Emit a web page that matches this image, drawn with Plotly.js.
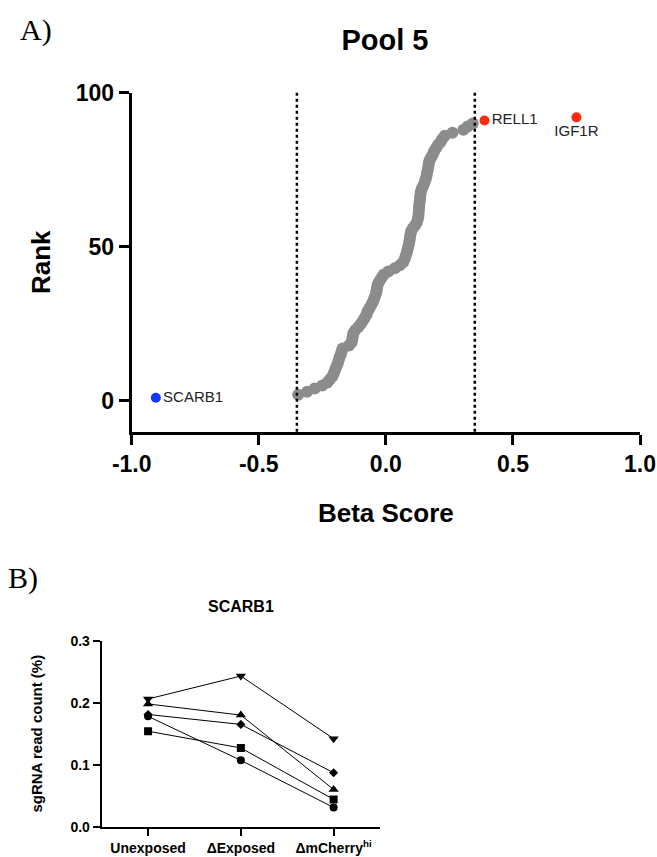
<!DOCTYPE html>
<html>
<head>
<meta charset="utf-8">
<script src="https://cdn.plot.ly/plotly-3.0.1.min.js"></script>
<style>html,body{margin:0;padding:0;background:#fff;}#chart{width:657px;height:857px;}</style>
</head>
<body>
<div id="chart"></div>
<script>
// ---------- Panel A data ----------
const grayRanks = [2,3,4,5,6,7,8,9,10,11,12,13,14,15,16,17,18,19,20,21,22,23,24,25,26,27,28,29,30,
  31,32,33,34,35,36,37,38,39,40,41,42,43,44,45,46,47,48,49,50,51,52,53,54,55,56,57,58,59,60,
  61,62,63,64,65,66,67,68,69,70,71,72,73,74,75,76,77,78,79,80,81,82,83,84,85,86,87,88,89,90];
const grayBeta = [-0.345,-0.31,-0.28,-0.25,-0.23,-0.22,-0.21,-0.205,-0.20,-0.195,-0.19,-0.186,-0.183,-0.178,-0.174,-0.17,
  -0.145,-0.135,-0.132,-0.13,-0.128,-0.12,-0.108,-0.098,-0.09,-0.083,-0.076,-0.072,-0.065,-0.058,
  -0.052,-0.047,-0.042,-0.038,-0.036,-0.034,-0.031,-0.024,-0.016,-0.008,0.01,0.035,0.055,0.068,0.074,
  0.078,0.082,0.085,0.088,0.091,0.093,0.095,0.097,0.099,0.106,0.115,0.122,0.126,0.128,0.129,
  0.13,0.131,0.132,0.134,0.135,0.136,0.138,0.142,0.148,0.153,0.157,0.16,0.162,0.165,0.167,
  0.169,0.172,0.178,0.185,0.19,0.197,0.205,0.215,0.222,0.232,0.262,0.305,0.322,0.342];
const hitGenes = ['RELL1','IGF1R'];
const hitBeta = [0.388, 0.75];
const hitRank = [91, 92];
const lowGenes = ['SCARB1'];
const lowBeta = [-0.905];
const lowRank = [1];
const cutoffs = [-0.35, 0.35];
const xTickVals = [-1, -0.5, 0, 0.5, 1];
const xTickText = ['-1.0','-0.5','0.0','0.5','1.0'];
const yTickVals = [0, 50, 100];

// ---------- Panel B data ----------
const conditions = ['Unexposed','ΔExposed','ΔmCherry<sup>hi</sup>'];
const sgDown   = [0.206, 0.243, 0.142];
const sgUp     = [0.198, 0.180, 0.060];
const sgDiam   = [0.181, 0.165, 0.087];
const sgCircle = [0.178, 0.107, 0.031];
const sgSquare = [0.154, 0.127, 0.044];

const BOLD = {family:'Liberation Sans, Arial, sans-serif', color:'#000', weight:'bold'};
function f(size, extra){ return Object.assign({}, BOLD, {size:size}, extra||{}); }
const LBL = {family:'Liberation Sans, Arial, sans-serif', size:15, color:'#222'};

const traces = [
  {x: grayBeta, y: grayRanks, xaxis:'x', yaxis:'y', mode:'markers', type:'scatter',
   marker:{color:'#8c8c8c', size:12}},
  {x: [hitBeta[0]], y: [hitRank[0]], text:[hitGenes[0]], xaxis:'x', yaxis:'y', mode:'markers+text', type:'scatter',
   textposition:'middle right', textfont:LBL, marker:{color:'#ff2a12', size:10}},
  {x: [hitBeta[1]], y: [hitRank[1]], text:[hitGenes[1]], xaxis:'x', yaxis:'y', mode:'markers+text', type:'scatter',
   textposition:'bottom center', textfont:LBL, marker:{color:'#ff2a12', size:10}},
  {x: lowBeta, y: lowRank, text: lowGenes, xaxis:'x', yaxis:'y', mode:'markers+text', type:'scatter',
   textposition:'middle right', textfont:LBL, marker:{color:'#1238ff', size:10}}
];

const series = [
  [sgDown,'triangle-down',9],[sgUp,'triangle-up',9],[sgDiam,'diamond',7],[sgCircle,'circle',8],[sgSquare,'square',8]
];
series.forEach(function(s){
  traces.push({x: conditions, y: s[0], xaxis:'x2', yaxis:'y2', type:'scatter', mode:'lines+markers',
    line:{color:'#000', width:1}, marker:{symbol:s[1], color:'#000', size:s[2]}});
});

const W = 657, H = 857;
const layout = {
  width: W, height: H, margin:{l:0,r:0,t:0,b:0}, showlegend:false,
  paper_bgcolor:'#fff', plot_bgcolor:'rgba(0,0,0,0)',
  title:{text:'Pool 5', font:f(29), x:385/W, xanchor:'center', xref:'paper', y:1-40/H, yanchor:'middle', yref:'container'},
  xaxis:{domain:[131.7/W, 640/W], range:[-1,1], anchor:'y', showline:true, linewidth:3, linecolor:'#000',
    ticks:'outside', ticklen:10, tickwidth:3, tickcolor:'#000', showgrid:false, zeroline:false,
    tickvals:xTickVals, ticktext:xTickText, tickfont:f(23),
    title:{text:'Beta Score', font:f(26), standoff:28}},
  yaxis:{domain:[1-431.7/H, 1-92.7/H], range:[-10,100], anchor:'x', showline:true, linewidth:3, linecolor:'#000',
    ticks:'outside', ticklen:10, tickwidth:3, tickcolor:'#000', showgrid:false, zeroline:false,
    tickvals:yTickVals, tickfont:f(23),
    title:{text:'Rank', font:f(26), standoff:18}},
  xaxis2:{domain:[101.7/W, 380/W], range:[-0.5,2.5], type:'category', anchor:'y2', showline:true, linewidth:2, linecolor:'#000',
    ticks:'outside', ticklen:7, tickwidth:2, tickcolor:'#000', showgrid:false, zeroline:false, tickfont:f(14)},
  yaxis2:{domain:[1-826.7/H, 1-640.7/H], range:[0,0.3], anchor:'x2', showline:true, linewidth:2, linecolor:'#000',
    ticks:'outside', ticklen:7, tickwidth:2, tickcolor:'#000', showgrid:false, zeroline:false,
    dtick:0.1, tick0:0, tickformat:'.1f', tickfont:f(14),
    title:{text:'sgRNA read count (%)', font:f(15), standoff:24}},
  shapes: cutoffs.map(function(c){ return {type:'line', xref:'x', yref:'y domain', x0:c, x1:c, y0:0, y1:1,
    line:{color:'#000', width:2.5, dash:'dot'}}; }),
  annotations:[
    {text:'A)', xref:'paper', yref:'paper', x:18/W, y:1-30/H, xanchor:'left', yanchor:'middle', showarrow:false,
     font:{family:'Liberation Serif, Times New Roman, serif', size:30, color:'#000'}},
    {text:'B)', xref:'paper', yref:'paper', x:6/W, y:1-578/H, xanchor:'left', yanchor:'middle', showarrow:false,
     font:{family:'Liberation Serif, Times New Roman, serif', size:30, color:'#000'}},
    {text:'SCARB1', xref:'paper', yref:'paper', x:241/W, y:1-606/H, xanchor:'center', yanchor:'middle', showarrow:false,
     font:f(16)}
  ]
};

Plotly.newPlot('chart', traces, layout, {staticPlot:true, displayModeBar:false});
</script>
</body>
</html>
